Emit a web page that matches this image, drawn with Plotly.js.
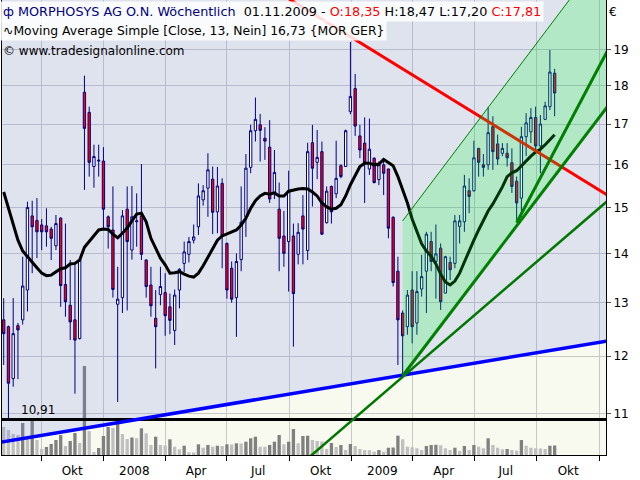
<!DOCTYPE html>
<html><head><meta charset="utf-8">
<script src="https://cdn.plot.ly/plotly-3.0.1.min.js"></script>
<style>html,body{margin:0;padding:0;background:#fff}#chart{width:640px;height:480px}</style>
</head><body><div id="chart"></div>
<script>
// ---------- data ----------
const dates = [
'2007-08-07','2007-08-14','2007-08-21','2007-08-28','2007-09-04','2007-09-11','2007-09-18','2007-09-25','2007-10-02','2007-10-09',
'2007-10-16','2007-10-23','2007-10-30','2007-11-06','2007-11-13','2007-11-20','2007-11-27','2007-12-04','2007-12-11','2007-12-18',
'2007-12-25','2008-01-01','2008-01-08','2008-01-15','2008-01-22','2008-01-29','2008-02-05','2008-02-12','2008-02-19','2008-02-26',
'2008-03-04','2008-03-11','2008-03-18','2008-03-25','2008-04-01','2008-04-08','2008-04-15','2008-04-22','2008-04-29','2008-05-06',
'2008-05-13','2008-05-20','2008-05-27','2008-06-03','2008-06-10','2008-06-17','2008-06-24','2008-07-01','2008-07-08','2008-07-15',
'2008-07-22','2008-07-29','2008-08-05','2008-08-12','2008-08-19','2008-08-26','2008-09-02','2008-09-09','2008-09-16','2008-09-23',
'2008-09-30','2008-10-07','2008-10-14','2008-10-21','2008-10-28','2008-11-04','2008-11-11','2008-11-18','2008-11-25','2008-12-02',
'2008-12-09','2008-12-16','2008-12-23','2008-12-30','2009-01-06','2009-01-13','2009-01-20','2009-01-27','2009-02-03','2009-02-10',
'2009-02-17','2009-02-24','2009-03-03','2009-03-10','2009-03-17','2009-03-24','2009-03-31','2009-04-07','2009-04-14','2009-04-21',
'2009-04-28','2009-05-05','2009-05-12','2009-05-19','2009-05-26','2009-06-02','2009-06-09','2009-06-16','2009-06-23','2009-06-30',
'2009-07-07','2009-07-14','2009-07-21','2009-07-28','2009-08-04','2009-08-11','2009-08-18','2009-08-25','2009-09-01','2009-09-08',
'2009-09-15','2009-09-22','2009-09-29','2009-10-06','2009-10-13','2009-10-20','2009-10-27'];

const openP = [12.67,12.54,11.60,12.56,12.67,13.25,14.81,14.71,14.61,14.59,
14.52,14.16,14.76,13.36,12.95,12.67,12.32,17.83,17.30,15.95,
16.08,16.08,14.79,14.50,12.97,13.10,14.96,14.07,14.68,14.81,
13.86,13.35,12.70,13.16,13.20,12.92,12.47,13.25,13.79,13.98,
14.28,14.57,15.17,15.44,15.65,14.90,15.55,14.21,13.69,13.10,
13.87,14.79,15.93,16.83,16.98,16.64,16.42,15.33,14.96,14.37,
14.25,14.37,13.98,14.81,14.06,16.53,16.05,16.31,14.66,15.48,
15.31,15.97,15.95,17.32,17.93,16.70,16.52,15.89,16.15,15.64,
15.99,15.89,14.78,13.63,12.80,12.54,13.25,12.61,13.27,13.63,
14.25,13.83,14.11,13.19,13.81,13.79,14.58,14.68,15.38,15.38,
16.39,15.99,15.99,16.93,16.50,16.27,16.27,16.04,15.60,15.21,
16.68,16.80,17.17,16.45,17.12,17.45,18.35];

const highP = [13.09,12.56,13.09,12.61,13.93,15.13,15.15,15.21,14.74,14.98,
14.57,14.83,14.78,14.64,13.86,13.79,13.88,18.28,17.45,16.48,
16.48,16.42,14.82,15.48,13.72,14.94,15.48,15.49,15.32,16.01,
13.88,13.72,13.25,13.72,13.59,13.18,13.26,13.69,14.25,14.35,
14.62,15.55,15.51,16.27,15.95,15.94,15.67,14.23,13.83,14.00,
15.48,16.25,16.98,17.69,17.26,16.92,17.10,16.35,15.57,14.92,
15.85,14.64,14.65,15.28,16.53,16.98,16.85,16.56,15.48,15.50,
16.58,16.00,16.86,19.23,18.33,16.98,17.17,17.14,16.17,16.07,
16.13,15.90,14.80,13.93,12.85,13.25,13.63,13.63,13.97,14.46,
14.46,14.62,14.21,13.95,13.93,14.83,14.83,15.75,15.67,16.58,
16.40,16.25,17.43,17.20,16.73,16.52,16.52,16.39,15.71,16.93,
17.28,17.41,17.45,17.23,17.58,19.00,18.47];

const lowP = [11.84,10.91,11.46,11.59,12.58,12.83,13.59,13.90,14.07,14.14,
13.86,14.07,12.92,12.73,12.29,11.34,12.30,15.40,15.71,15.45,
15.71,14.54,14.10,13.10,11.20,12.80,12.85,13.87,14.14,13.86,
13.10,12.73,11.78,12.95,12.37,12.40,12.20,12.89,13.61,13.81,
14.21,14.39,15.04,14.79,14.41,14.43,13.69,13.08,13.00,12.35,
13.63,14.35,15.79,16.56,16.07,16.11,15.10,15.19,13.63,13.72,
13.22,12.17,13.77,13.77,13.86,15.02,15.65,14.39,14.64,14.64,
15.21,15.67,15.94,17.25,16.70,16.15,15.10,15.75,15.55,15.51,
15.28,14.32,13.32,11.84,11.65,12.39,12.23,12.39,13.12,12.80,
13.63,13.08,12.86,13.18,13.45,13.69,14.21,14.46,14.87,15.36,
15.71,15.71,15.87,15.87,15.99,16.20,15.95,15.33,14.72,14.79,
16.20,16.52,16.27,15.79,17.10,17.36,17.20];

const closeP = [12.41,11.52,12.41,12.48,13.33,15.00,14.57,14.46,14.46,14.46,
14.32,14.64,13.34,13.02,12.63,12.29,13.86,16.89,16.05,16.19,
16.10,14.96,14.57,13.26,13.07,14.81,14.25,14.79,14.70,13.98,
13.32,12.94,12.54,13.32,12.75,12.66,13.15,13.67,14.03,14.25,
14.35,15.26,15.38,15.87,14.89,15.49,14.37,13.25,13.07,13.83,
14.67,15.91,16.83,17.12,16.84,16.57,15.19,15.81,14.32,14.00,
15.38,13.18,14.45,14.52,16.31,15.91,16.17,14.41,15.37,14.90,
15.67,15.71,16.83,17.72,16.95,16.35,16.04,16.37,15.57,15.99,
15.79,14.54,13.40,12.67,12.37,13.15,12.54,13.22,13.52,14.41,
13.83,13.99,13.02,13.93,13.66,14.70,14.70,15.49,15.25,16.16,
16.05,15.93,16.78,16.31,16.13,16.39,16.16,15.48,15.10,16.68,
17.03,17.17,16.45,17.00,17.47,18.38,17.81];

// weekly volume (thousand shares)
const volume = [280,250,210,200,320,160,350,150,60,80,
110,150,200,90,140,220,120,890,240,30,
70,190,280,270,320,210,160,175,167,267,
217,100,183,100,95,157,83,57,93,27,
25,107,73,100,83,93,90,107,105,117,
115,133,167,183,83,82,100,133,200,107,
133,260,117,190,193,150,140,135,60,120,
80,100,50,110,90,60,50,48,33,50,
33,73,75,193,157,83,77,67,50,90,
100,102,98,67,50,73,40,90,50,100,
83,67,167,100,73,57,60,50,43,150,
93,73,67,65,60,93,95];

// 13-week simple moving average
const maValues = [15.35,14.98,14.61,14.28,14.05,13.94,13.82,13.70,13.59,13.54,
13.55,13.62,13.68,13.70,13.78,13.79,13.86,14.13,14.26,14.37,
14.50,14.52,14.51,14.41,14.33,14.43,14.54,14.70,14.85,14.87,
14.68,14.32,14.09,13.90,13.76,13.59,13.60,13.62,13.57,13.53,
13.51,13.59,13.74,13.92,14.09,14.28,14.37,14.41,14.46,14.50,
14.61,14.76,14.98,15.15,15.26,15.32,15.30,15.33,15.26,15.26,
15.37,15.40,15.42,15.43,15.42,15.35,15.26,15.10,15.01,14.96,
14.98,15.06,15.26,15.52,15.73,15.95,16.03,16.03,15.99,16.01,
16.12,16.04,15.97,15.71,15.42,15.10,14.74,14.46,14.20,14.05,
13.94,13.78,13.57,13.41,13.35,13.43,13.59,13.82,14.03,14.28,
14.50,14.70,14.92,15.08,15.26,15.47,15.71,15.80,15.85,15.97,
16.08,16.20,16.30,16.37,16.48,16.60,16.73];

// trend lines (end points)
const supportX = ['2007-08-01','2010-01-20'];   const supportY = [10.54, 12.29];
const resistX  = ['2008-09-17','2010-01-20'];   const resistY  = [20.69, 15.21];
const fanLowX  = ['2008-10-17','2010-01-20'];   const fanLowY  = [10.19, 15.24];
const fanMidX  = ['2009-03-17','2010-01-20'];   const fanMidY  = [11.65, 17.62];
const fanSteepX = ['2009-09-01','2010-01-20'];  const fanSteepY = [14.66, 19.24];
const chanTopX = ['2009-03-17','2010-01-20'];   const chanTopY = [14.70, 22.31];
const lowLevel = 10.91;
const lowLabel = '10,91';

const yTickVals = [11,12,13,14,15,16,17,18,19];
const yTickText = ['11','12','13','14','15','16','17','18','19'];
const xLabelAlias = {'Q3 2007':' ','Q4 2007':'Okt','Q1 2008':'2008','Q2 2008':'Apr','Q3 2008':'Jul',
  'Q4 2008':'Okt','Q1 2009':'2009','Q2 2009':'Apr','Q3 2009':'Jul','Q4 2009':'Okt','Q1 2010':' '};

const headerTitle = 'MORPHOSYS AG O.N. Wöchentlich';
const headerDate = '01.11.2009';
const headerO = 'O:18,35', headerH = 'H:18,47', headerL = 'L:17,20', headerC = 'C:17,81';
const maLabel = 'Moving Average Simple [Close, 13, Nein] 16,73 {MOR GER}';
const credit = '© www.tradesignalonline.com';

// ---------- chart ----------
const PLOT = {l:2, t:0, w:604, h:455};
const px2x = p => (p - PLOT.l) / PLOT.w;
const px2y = p => 1 - (p - PLOT.t) / PLOT.h;
const yRange = [Math.log10(10.343), Math.log10(20.48)];
const TOP = 40;

const volColors = volume.map((v, i) => (i > 0 && v >= volume[i-1]) ? '#808080' : '#c0c0c0');

const traces = [
  {type:'bar', x:dates, y:volume, xaxis:'x', yaxis:'y', marker:{color:volColors, line:{width:0}}, hoverinfo:'skip'},
  // lavender area above the support line
  {type:'scatter', mode:'lines', x:[supportX[0], supportX[1], supportX[1], supportX[0]],
   y:[supportY[0], supportY[1], TOP, TOP], fill:'toself', fillcolor:'rgba(110,120,235,0.18)',
   line:{width:0}, xaxis:'x', yaxis:'y2', hoverinfo:'skip'},
  {type:'scatter', mode:'lines', x:supportX, y:[lowLevel, lowLevel], line:{color:'#000000', width:3},
   xaxis:'x', yaxis:'y2', hoverinfo:'skip'},
  {type:'scatter', mode:'lines', x:supportX, y:supportY, line:{color:'#0000ff', width:3.5},
   xaxis:'x', yaxis:'y2', hoverinfo:'skip'},
  // price
  {type:'candlestick', x:dates, open:openP, high:highP, low:lowP, close:closeP, xaxis:'x', yaxis:'y3',
   increasing:{line:{color:'#000080', width:1}, fillcolor:'#ffffff'},
   decreasing:{line:{color:'#000080', width:1}, fillcolor:'#ff0000'},
   whiskerwidth:0, hoverinfo:'skip'},
  {type:'scatter', mode:'lines', x:dates, y:maValues, line:{color:'#000000', width:3},
   xaxis:'x', yaxis:'y3', hoverinfo:'skip'},
  {type:'scatter', mode:'lines', x:resistX, y:resistY, line:{color:'#ff0000', width:3},
   xaxis:'x', yaxis:'y3', hoverinfo:'skip'},
  // green channel
  {type:'scatter', mode:'lines', x:[fanMidX[0], fanMidX[1], chanTopX[1], chanTopX[0]],
   y:[fanMidY[0], fanMidY[1], chanTopY[1], chanTopY[0]], fill:'toself', fillcolor:'rgba(0,255,40,0.2)',
   line:{width:0}, xaxis:'x', yaxis:'y3', hoverinfo:'skip'},
  {type:'scatter', mode:'lines', x:chanTopX, y:chanTopY, line:{color:'#008000', width:1},
   xaxis:'x', yaxis:'y3', hoverinfo:'skip'},
  {type:'scatter', mode:'lines', x:fanLowX, y:fanLowY, line:{color:'#007800', width:2.5},
   xaxis:'x', yaxis:'y3', hoverinfo:'skip'},
  {type:'scatter', mode:'lines', x:fanMidX, y:fanMidY, line:{color:'#008000', width:3},
   xaxis:'x', yaxis:'y3', hoverinfo:'skip'},
  {type:'scatter', mode:'lines', x:fanSteepX, y:fanSteepY, line:{color:'#008000', width:3},
   xaxis:'x', yaxis:'y3', hoverinfo:'skip'}
];

const FONT = 'DejaVu Sans, Verdana, sans-serif';
const boxBg = 'rgba(255,255,255,0.85)';
const annotations = [
  {xref:'paper', yref:'paper', x:px2x(0), y:px2y(11), xanchor:'left', yanchor:'middle', showarrow:false,
   bgcolor:boxBg, borderpad:2, font:{family:FONT, size:12.8, color:'#000'},
   text:'<span style="color:#000080">ф ' + headerTitle + '</span>  ' + headerDate + ' - <span style="color:#ff0000">' + headerO +
        '</span> ' + headerH + ' ' + headerL + ' <span style="color:#ff0000">' + headerC + '</span>'},
  {xref:'paper', yref:'paper', x:px2x(0), y:px2y(31), xanchor:'left', yanchor:'middle', showarrow:false,
   bgcolor:boxBg, borderpad:2, font:{family:FONT, size:12.4, color:'#000'}, text:'∿' + maLabel},
  {xref:'paper', yref:'paper', x:px2x(1), y:px2y(51), xanchor:'left', yanchor:'middle', showarrow:false,
   font:{family:FONT, size:12, color:'#000'}, text:credit},
  {xref:'paper', yref:'paper', x:px2x(613), y:px2y(12), xanchor:'center', yanchor:'middle', showarrow:false,
   font:{family:FONT, size:12, color:'#000'}, text:'€'},
  {xref:'paper', yref:'paper', x:px2x(38), y:px2y(410), xanchor:'center', yanchor:'middle', showarrow:false,
   font:{family:FONT, size:12, color:'#000'}, text:lowLabel}
];

const layout = {
  width:640, height:480,
  margin:{l:PLOT.l, r:640 - PLOT.l - PLOT.w, t:PLOT.t, b:480 - PLOT.t - PLOT.h, pad:0},
  paper_bgcolor:'#ffffff', plot_bgcolor:'#f8faf0',
  showlegend:false, hovermode:false, bargap:0.3,
  font:{family:FONT, size:12, color:'#000'},
  xaxis:{type:'date', range:['2007-08-04 12:00','2010-01-10 17:00'], dtick:'M3', tick0:'2007-01-01',
    ticklabelmode:'period', tickformat:'Q%q %Y', labelalias:xLabelAlias,
    ticks:'outside', ticklen:5, tickcolor:'#000', tickfont:{family:FONT, size:12, color:'#000'},
    showgrid:true, gridcolor:'#c8c8c8', gridwidth:1, zeroline:false,
    showline:true, linecolor:'#000', linewidth:1, mirror:true,
    rangeslider:{visible:false}, fixedrange:true},
  yaxis:{range:[0,4550], showgrid:false, zeroline:false, showticklabels:false, ticks:'',
    showline:true, linecolor:'#000', linewidth:1, fixedrange:true},
  yaxis2:{overlaying:'y', side:'right', type:'log', range:yRange, tickmode:'array',
    tickvals:yTickVals, ticktext:yTickText, ticks:'outside', ticklen:4, tickcolor:'#555',
    tickfont:{family:FONT, size:12, color:'#000'},
    showgrid:true, gridcolor:'#c8c8c8', gridwidth:1, zeroline:false,
    showline:true, linecolor:'#000', linewidth:1, fixedrange:true},
  yaxis3:{overlaying:'y', side:'right', type:'log', range:yRange, visible:false, fixedrange:true},
  annotations:annotations
};

Plotly.newPlot('chart', traces, layout, {staticPlot:true, displayModeBar:false});
</script>
</body></html>
